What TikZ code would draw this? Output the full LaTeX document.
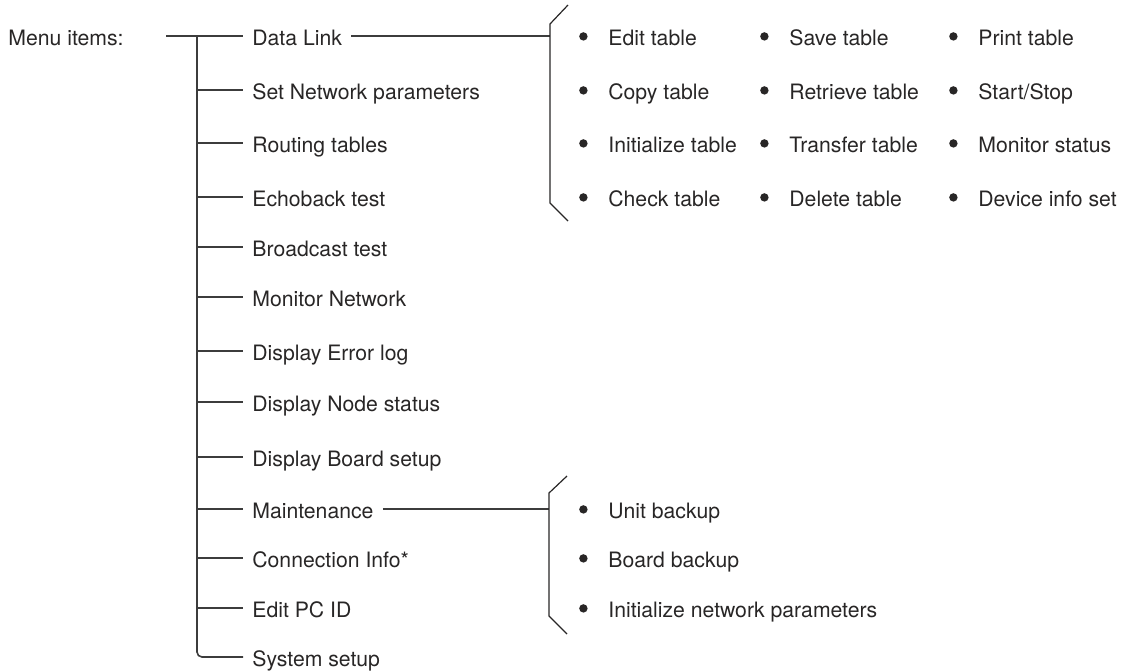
\documentclass[tikz,border=0pt]{standalone}
\usepackage{fontspec}
\setmainfont{TeX Gyre Heros}
\usetikzlibrary{positioning}
\definecolor{inkcolor}{RGB}{40,38,38}
\definecolor{wirecolor}{RGB}{60,60,60}
\tikzset{
    menuitem/.style={anchor=west, inner xsep=4.5pt, inner ysep=0pt,
        text height=11pt, text depth=2pt, text=inkcolor, font=\fontsize{10.6}{13}\selectfont},
    subitem/.style={menuitem, inner xsep=0pt},
    wire/.style={draw=wirecolor, line width=0.8pt},
    bracket/.style={draw=inkcolor, line width=0.6pt}
}
\newcommand{\dotmark}{\llap{\tikz[baseline=-4.3pt]\fill[inkcolor] (0,0) circle (2.1pt);\hspace{10.4pt}}}

\begin{document}
\begin{tikzpicture}[x=0.5pt, y=-0.5pt]
    \useasboundingbox (0,0) rectangle (1125,670);

    \node[subitem] (title) at (8,36) {Menu items:};
    \coordinate (start) at (166,36);
    \coordinate (root) at (197,36);
    \coordinate (foot) at (197,657);

    \node[menuitem] (dlink) at (243,36) {Data Link};
    \node[menuitem] (setnet) at (243,90) {Set Network parameters};
    \node[menuitem] (routing) at (243,143) {Routing tables};
    \node[menuitem] (echo) at (243,197) {Echoback test};
    \node[menuitem] (bcast) at (243,247) {Broadcast test};
    \node[menuitem] (monnet) at (243,297) {Monitor Network};
    \node[menuitem] (errlog) at (243,351) {Display Error log};
    \node[menuitem] (nodestat) at (243,402) {Display Node status};
    \node[menuitem] (board) at (243,457) {Display Board setup};
    \node[menuitem] (maint) at (243,509) {Maintenance};
    \node[menuitem] (conninfo) at (243,558) {Connection Info*};
    \node[menuitem] (pcid) at (243,608) {Edit PC ID};
    \node[menuitem] (syssetup) at (243,657) {System setup};

    \node[subitem] (edittab) at (608,36) {\dotmark Edit table};
    \node[subitem] (copytab) at (608,90) {\dotmark Copy table};
    \node[subitem] (inittab) at (608,143) {\dotmark Initialize table};
    \node[subitem] (checktab) at (608,197) {\dotmark Check table};
    \node[subitem] (savetab) at (789,36) {\dotmark Save table};
    \node[subitem] (rettab) at (789,90) {\dotmark Retrieve table};
    \node[subitem] (xfertab) at (789,143) {\dotmark Transfer table};
    \node[subitem] (deltab) at (789,197) {\dotmark Delete table};
    \node[subitem] (printtab) at (978,36) {\dotmark Print table};
    \node[subitem] (startstop) at (978,90) {\dotmark Start/Stop};
    \node[subitem] (monstat) at (978,143) {\dotmark Monitor status};
    \node[subitem] (devinfo) at (978,197) {\dotmark Device info set};

    \node[subitem] (unitbak) at (608,509) {\dotmark Unit backup};
    \node[subitem] (boardbak) at (608,558) {\dotmark Board backup};
    \node[subitem] (initnet) at (608,608) {\dotmark Initialize network parameters};

    \coordinate (dlbrk) at (550,36);
    \coordinate (mtbrk) at (549,509);

    \draw[wire] (start) -- (dlink.west);
    \draw[wire, rounded corners=2.5pt] (root) -- (foot) -- (syssetup.west);
    \draw[wire] (root |- setnet.west) -- (setnet.west);
    \draw[wire] (root |- routing.west) -- (routing.west);
    \draw[wire] (root |- echo.west) -- (echo.west);
    \draw[wire] (root |- bcast.west) -- (bcast.west);
    \draw[wire] (root |- monnet.west) -- (monnet.west);
    \draw[wire] (root |- errlog.west) -- (errlog.west);
    \draw[wire] (root |- nodestat.west) -- (nodestat.west);
    \draw[wire] (root |- board.west) -- (board.west);
    \draw[wire] (root |- maint.west) -- (maint.west);
    \draw[wire] (root |- conninfo.west) -- (conninfo.west);
    \draw[wire] (root |- pcid.west) -- (pcid.west);

    \draw[wire] (dlink.east) -- (dlbrk);
    \draw[wire] (maint.east) -- (mtbrk);

    \draw[bracket] (568,5) -- (550,24) -- (550,203) -- (568,221);
    \draw[bracket] (567,476) -- (549,493) -- (549,616) -- (567,634);

\end{tikzpicture}
\end{document}
